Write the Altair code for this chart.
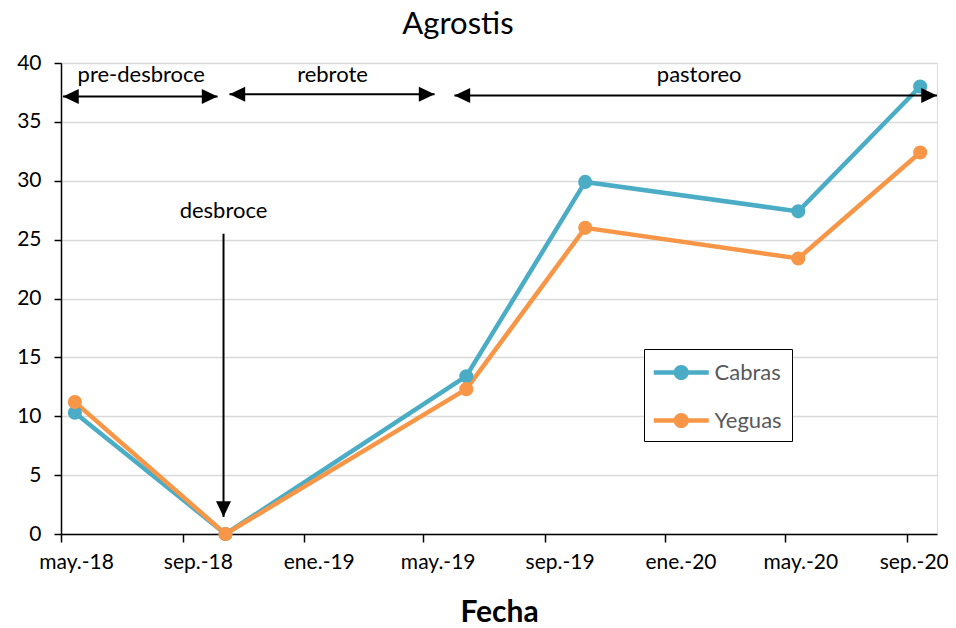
import altair as alt
import pandas as pd

# ---- data ----
fechas = ["2018-05-15", "2018-10-14", "2019-06-14", "2019-10-12", "2020-05-14", "2020-09-14"]
cabras = [10.3, 0.0, 13.4, 29.9, 27.4, 38.0]
yeguas = [11.2, 0.0, 12.3, 26.0, 23.4, 32.4]
series = ["Cabras", "Yeguas"]
colors = ["#4BACC6", "#F79646"]

# period annotations (double-headed arrows)
period_labels = ["pre-desbroce", "rebrote", "pastoreo"]
period_label_dates = ["2018-07-21", "2019-01-30", "2020-02-04"]
period_label_y = [39.0, 39.0, 39.0]
period_start = ["2018-05-03", "2018-10-18", "2019-06-02"]
period_end = ["2018-10-06", "2019-05-13", "2020-10-01"]
period_y = [37.15, 37.35, 37.25]

# desbroce annotation (vertical arrow)
desbroce_label = ["desbroce"]
desbroce_date = ["2018-10-12"]
desbroce_label_y = [27.4]
desbroce_top = [25.5]
desbroce_tip = [1.45]

x_ticks = [(2018, 5), (2018, 9), (2019, 1), (2019, 5), (2019, 9), (2020, 1), (2020, 5), (2020, 9)]
y_ticks = [0, 5, 10, 15, 20, 25, 30, 35, 40]

FONT = "Lato"

df = pd.DataFrame({
    "fecha": fechas * 2,
    "valor": cabras + yeguas,
    "serie": [series[0]] * len(fechas) + [series[1]] * len(fechas),
})
df_periods = pd.DataFrame({"label": period_labels, "lx": period_label_dates, "ly": period_label_y,
                           "x0": period_start, "x1": period_end, "y": period_y})
df_desb = pd.DataFrame({"label": desbroce_label, "x": desbroce_date, "ly": desbroce_label_y,
                        "y0": desbroce_top, "y1": desbroce_tip})

x_scale = alt.Scale(type="utc",
                    domain=[alt.DateTime(year=2018, month=5, date=1, utc=True),
                            alt.DateTime(year=2020, month=10, date=1, utc=True)])
y_scale = alt.Scale(domain=[0, 40], nice=False)

month_expr = ("['ene.','feb.','mar.','abr.','may.','jun.','jul.','ago.','sep.','oct.','nov.','dic.']"
              "[utcmonth(datum.value)] + '-' + utcFormat(datum.value, '%y')")
last_test = "utcyear(datum.value) == 2020 && utcmonth(datum.value) == 8"

x_axis = alt.Axis(
    values=[alt.DateTime(year=y, month=m, date=1, utc=True) for y, m in x_ticks],
    labelExpr=month_expr, title="Fecha", grid=False,
    labelFont=FONT, labelFontSize=21, labelColor="black",
    labelOffset={"condition": {"test": last_test, "value": 41}, "value": 15},
    labelAlign={"condition": {"test": last_test, "value": "right"}, "value": "center"},
    titleFont=FONT, titleFontSize=30, titleFontWeight="bold", titleColor="black",
    titlePadding=25, tickSize=8, tickColor="black", tickWidth=1.5,
    domainColor="black", domainWidth=1.5, labelPadding=9, labelFlush=False,
    labelOverlap=False,
)
y_axis = alt.Axis(
    values=y_ticks, title=None, grid=True, gridColor="#D9D9D9", gridWidth=1.3,
    labelFont=FONT, labelFontSize=21, labelColor="black", labelPadding=13,
    tickSize=7, tickColor="black", tickWidth=1.5, domainColor="black", domainWidth=1.5,
)

color_scale = alt.Scale(domain=series, range=colors)

legend_symbol = ("M-1,-0.17L3,-0.17L3,0.17L-1,0.17Z "
                 "M1.55,0A0.55,0.55,0,1,1,0.45,0A0.55,0.55,0,1,1,1.55,0Z")

legend = alt.Legend(
    title=None, orient="none", legendX=583, legendY=286,
    symbolType=legend_symbol, symbolSize=756, symbolStrokeWidth=0,
    labelFont=FONT, labelFontSize=22, labelColor="#595959", labelOffset=33,
    strokeColor="black", fillColor="white", padding=9.5, rowPadding=23,
)

base = alt.Chart(df)

lines = base.mark_line(strokeWidth=4.5).encode(
    x=alt.X("fecha:T", scale=x_scale, axis=x_axis),
    y=alt.Y("valor:Q", scale=y_scale, axis=y_axis),
    color=alt.Color("serie:N", scale=color_scale, legend=legend),
    detail="serie:N",
)
points = base.mark_point(filled=True, size=200, opacity=1).encode(
    x=alt.X("fecha:T", scale=x_scale),
    y=alt.Y("valor:Q", scale=y_scale),
    color=alt.Color("serie:N", scale=color_scale, legend=legend),
)

# period arrows
p_base = alt.Chart(df_periods)
p_rules = p_base.mark_rule(color="black", strokeWidth=2).encode(
    x=alt.X("x0:T", scale=x_scale), x2="x1:T", y=alt.Y("y:Q", scale=y_scale))
head_r = p_base.mark_point(filled=True, color="black", opacity=1, size=225,
                           shape="M0,0L-2.1,-1L-2.1,1Z").encode(
    x=alt.X("x1:T", scale=x_scale), y=alt.Y("y:Q", scale=y_scale))
head_l = p_base.mark_point(filled=True, color="black", opacity=1, size=225,
                           shape="M0,0L2.1,-1L2.1,1Z").encode(
    x=alt.X("x0:T", scale=x_scale), y=alt.Y("y:Q", scale=y_scale))
p_text = p_base.mark_text(font=FONT, fontSize=22, color="black", baseline="middle").encode(
    x=alt.X("lx:T", scale=x_scale), y=alt.Y("ly:Q", scale=y_scale), text="label:N")

d_base = alt.Chart(df_desb)
d_rule = d_base.mark_rule(color="black", strokeWidth=2).encode(
    x=alt.X("x:T", scale=x_scale), y=alt.Y("y0:Q", scale=y_scale), y2="y1:Q")
d_head = d_base.mark_point(filled=True, color="black", opacity=1, size=225,
                           shape="M0,0L-1,-2.1L1,-2.1Z").encode(
    x=alt.X("x:T", scale=x_scale), y=alt.Y("y1:Q", scale=y_scale))
d_text = d_base.mark_text(font=FONT, fontSize=22, color="black", baseline="middle").encode(
    x=alt.X("x:T", scale=x_scale), y=alt.Y("ly:Q", scale=y_scale), text="label:N")

chart = alt.layer(
    lines, points, p_rules, head_r, head_l, p_text, d_rule, d_head, d_text
).properties(
    width=876, height=471,
    title=alt.TitleParams("Agrostis", font=FONT, fontSize=31, fontWeight="normal",
                          color="black", anchor="middle", dx=-41, offset=11,
                          frame="group"),
    autosize=alt.AutoSizeParams(type="none"),
    padding={"left": 53, "top": 55, "right": 11, "bottom": 92},
).configure_view(stroke=None).configure(background="white")

chart.save("out.html", embed_options={"renderer": "svg", "actions": False})
